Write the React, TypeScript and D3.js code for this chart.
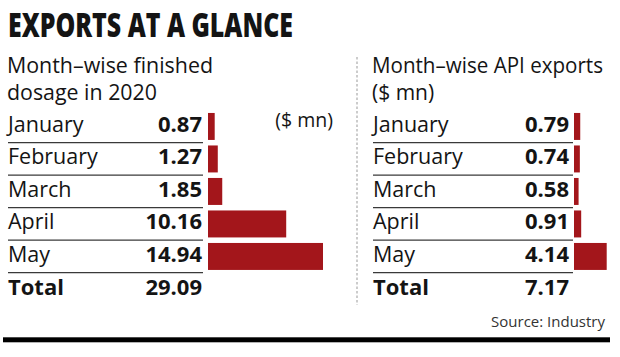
import React from "react";
import * as d3 from "d3";

const months = ["January", "February", "March", "April", "May"];
const finishedValues = [0.87, 1.27, 1.85, 10.16, 14.94];
const finishedTotal = "29.09";
const apiValues = [0.79, 0.74, 0.58, 0.91, 4.14];
const apiTotal = "7.17";
const titleText = "EXPORTS AT A GLANCE";
const leftSubtitle = ["Month–wise finished", "dosage in 2020"];
const rightSubtitle = ["Month–wise API exports", "($ mn)"];
const unitText = "($ mn)";
const sourceText = "Source: Industry";

const W = 620;
const H = 357;
const FONT = "'Open Sans', 'Noto Sans', sans-serif";
const BAR = "#a3161b";
const INK = "#141414";

const y = d3.scaleBand<string>().domain(months).range([110.2, 272.7]).paddingInner(0.17).paddingOuter(0.085);
const step = y.step();
const rowTop = (m: string) => (y(m) as number) - (y.paddingInner() * step) / 2;

function Panel({ labelX, valueX, barX, lineX2, values, total, scaleMax, scaleWidth }: any) {
  const x = d3.scaleLinear().domain([0, scaleMax]).range([barX, barX + scaleWidth]);
  return (
    <g>
      {months.map((m, i) => {
        const top = rowTop(m);
        return (
          <g key={m}>
            <text x={labelX} y={top + 21.5} fontSize={21.5} fill={INK}>{m}</text>
            <text x={valueX} y={top + 21.5} fontSize={22} fontWeight={700} textAnchor="end" fill={INK}>
              {values[i].toFixed(2)}
            </text>
            <rect x={x(0)} y={y(m)} width={x(values[i]) - x(0)} height={y.bandwidth()} fill={BAR} />
            <line x1={labelX} x2={lineX2} y1={top + step} y2={top + step} stroke="#3a3a3a" strokeWidth={1.3} />
          </g>
        );
      })}
      <text x={labelX} y={295} fontSize={22} fontWeight={700} fill={INK}>Total</text>
      <text x={valueX} y={295} fontSize={22} fontWeight={700} textAnchor="end" fill={INK}>{total}</text>
    </g>
  );
}

export default function App() {
  return (
    <svg width={W} height={H} style={{ position: "absolute", left: 0, top: 0, background: "#fff" }} fontFamily={FONT}>
      <rect x={0} y={0} width={W} height={H} fill="#fff" />
      <text x={8} y={36.7} fontSize={33} fontWeight={800} fill={INK} textLength={285} lengthAdjust="spacingAndGlyphs">
        {titleText}
      </text>
      <text x={7} y={73} fontSize={22} fill={INK} textLength={206} lengthAdjust="spacingAndGlyphs">{leftSubtitle[0]}</text>
      <text x={7} y={100} fontSize={21} fill={INK} textLength={150} lengthAdjust="spacingAndGlyphs">{leftSubtitle[1]}</text>
      <text x={333} y={127} fontSize={19.5} textAnchor="end" fill={INK}>{unitText}</text>

      <text x={372} y={73} fontSize={22} fill={INK} textLength={231} lengthAdjust="spacingAndGlyphs">{rightSubtitle[0]}</text>
      <text x={372} y={100} fontSize={21} fill={INK}>{rightSubtitle[1]}</text>

      <line x1={357} x2={357} y1={57} y2={305} stroke="#999" strokeWidth={1} strokeDasharray="2.5,2" />

      <Panel labelX={8} valueX={202} barX={208} lineX2={203} values={finishedValues} total={finishedTotal} scaleMax={14.94} scaleWidth={115} />
      <Panel labelX={373} valueX={569} barX={574} lineX2={573} values={apiValues} total={apiTotal} scaleMax={4.14} scaleWidth={32.7} />

      <text x={605} y={326.5} fontSize={15} textAnchor="end" fill="#333">{sourceText}</text>
      <rect x={3} y={337.3} width={607} height={5} fill="#000" />
    </svg>
  );
}
